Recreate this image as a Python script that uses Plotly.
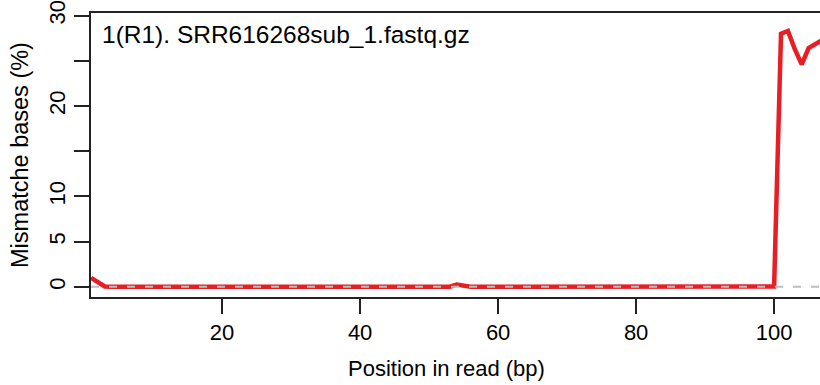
import plotly.graph_objects as go

# Mismatch rate (%) per read position for read 1
positions = list(range(1, 108))
mismatch_pct = (
    [1.0, 0.55, 0.05]
    + [0.02] * 31            # positions 4-34
    + [0.12]                 # 35
    + [0.02] * 18            # 36-53
    + [0.25, 0.1]            # 54-55
    + [0.02] * 44            # 56-99
    + [0.05]                 # 100
    + [28.0, 28.3, 26.3, 24.6, 26.4, 26.8, 27.3]  # 101-107
)
baseline_pct = 0

x_ticks = [20, 40, 60, 80, 100]
y_ticks = [0, 5, 10, 15, 20, 25, 30]
y_tick_text = ["0", "5", "10", "", "20", "", "30"]

panel_title = "1(R1). SRR616268sub_1.fastq.gz"
x_title = "Position in read (bp)"
y_title = "Mismatche bases (%)"

FONT = "Liberation Sans, Arial, Helvetica, sans-serif"
FS = 22

fig = go.Figure()
fig.add_trace(go.Scatter(
    x=positions, y=mismatch_pct, mode="lines",
    line=dict(color="rgb(232,30,36)", width=4.5),
    hoverinfo="skip", showlegend=False,
))
fig.add_trace(go.Scatter(
    x=[positions[0], positions[-1] + 5], y=[baseline_pct, baseline_pct], mode="lines",
    line=dict(color="#bdbdbd", width=2, dash="8px,10px"),
    hoverinfo="skip", showlegend=False,
))

axis_common = dict(
    showgrid=False, zeroline=False,
    showline=True, linecolor="#222222", linewidth=1.5,
    ticks="outside", ticklen=15, tickwidth=1.5, tickcolor="#222222",
    tickfont=dict(family=FONT, size=FS, color="black"),
    ticklabeloverflow="allow",
)

fig.update_xaxes(
    range=[1, 106.65], tickvals=x_ticks, mirror=True, **axis_common,
)
fig.update_yaxes(
    range=[-1.12, 30.29], tickvals=y_ticks, ticktext=y_tick_text,
    tickangle=-90, **axis_common,
)

fig.update_layout(
    width=820, height=385,
    margin=dict(l=91, r=0, t=8, b=88, pad=0),
    paper_bgcolor="white", plot_bgcolor="white",
    font=dict(family=FONT, size=FS, color="black"),
    annotations=[
        dict(text=panel_title, xref="paper", yref="paper", x=0.0123, y=0.924,
             xanchor="left", yanchor="middle", showarrow=False,
             font=dict(family=FONT, size=24.5, color="black")),
        dict(text=x_title, xref="paper", yref="paper", x=0.488, y=-0.2526,
             xanchor="center", yanchor="middle", showarrow=False,
             font=dict(family=FONT, size=FS, color="black")),
        dict(text=y_title, xref="paper", yref="paper", x=-0.0974, y=0.5,
             xanchor="center", yanchor="middle", textangle=-90, showarrow=False,
             font=dict(family=FONT, size=23.5, color="black")),
    ],
)

fig.write_html("out.html")
